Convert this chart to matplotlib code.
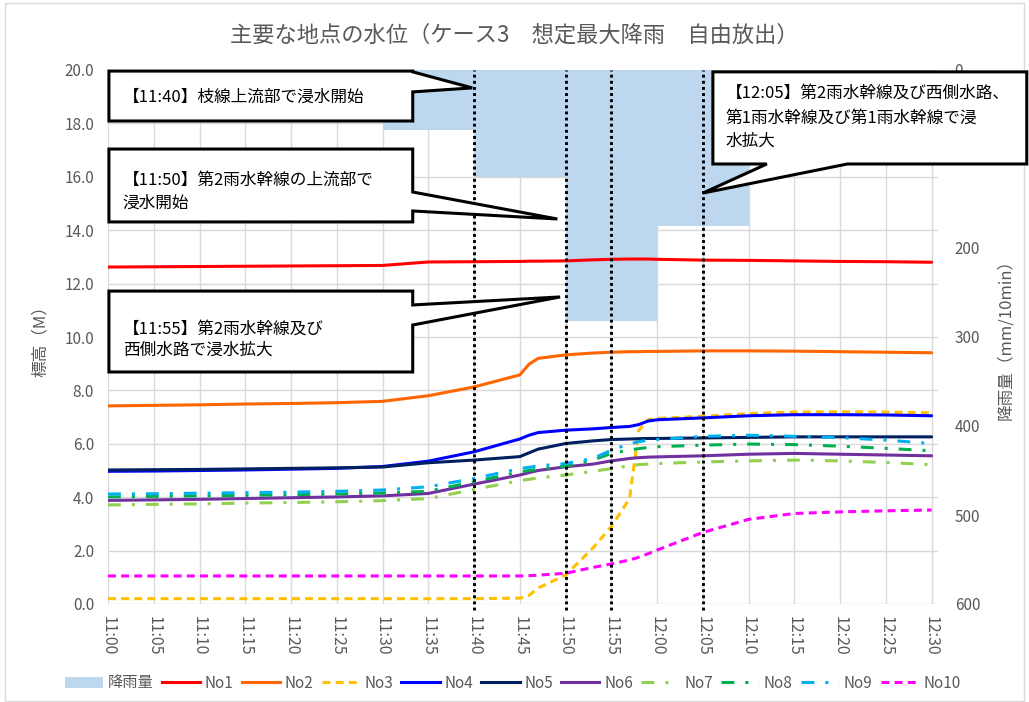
import matplotlib
matplotlib.use("Agg")
import matplotlib.pyplot as plt
from matplotlib.lines import Line2D
from matplotlib.patches import Polygon, Patch, Rectangle

plt.rcParams['font.family'] = ['Noto Sans CJK JP', 'DejaVu Sans']

GRAY = '#595959'
GRID = '#D9D9D9'

# ---- data -------------------------------------------------------------
minutes = [0, 5, 10, 15, 20, 25, 30, 35, 40, 45, 46, 47, 50, 53, 55, 57, 58, 59, 60,
           65, 70, 75, 80, 85, 90]

tick_minutes = [0, 5, 10, 15, 20, 25, 30, 35, 40, 45, 50, 55, 60, 65, 70, 75, 80, 85, 90]
tick_labels = ['11:00', '11:05', '11:10', '11:15', '11:20', '11:25', '11:30', '11:35',
               '11:40', '11:45', '11:50', '11:55', '12:00', '12:05', '12:10', '12:15',
               '12:20', '12:25', '12:30']

level_ticks = [0, 2, 4, 6, 8, 10, 12, 14, 16, 18, 20]
rain_ticks = [0, 100, 200, 300, 400, 500, 600]

rain_start = [0, 10, 20, 30, 40, 50, 60, 70, 80]
rain_mm = [0, 0, 0, 67, 120, 282, 175, 0, 0]

no1 = [12.62, 12.63, 12.64, 12.65, 12.66, 12.67, 12.68, 12.81, 12.82, 12.83, 12.84, 12.84,
       12.85, 12.89, 12.91, 12.92, 12.92, 12.92, 12.91, 12.88, 12.87, 12.85, 12.83, 12.82,
       12.80]
no2 = [7.42, 7.44, 7.46, 7.49, 7.51, 7.54, 7.59, 7.80, 8.13, 8.58, 8.98, 9.20, 9.33,
       9.40, 9.43, 9.45, 9.45, 9.46, 9.46, 9.48, 9.48, 9.47, 9.45, 9.43, 9.41]
no3 = [0.20, 0.20, 0.20, 0.20, 0.20, 0.20, 0.20, 0.20, 0.20, 0.22, 0.32, 0.60, 1.08,
       2.10, 2.90, 3.95, 6.50, 6.90, 6.95, 7.03, 7.13, 7.19, 7.20, 7.19, 7.16]
no4 = [4.97, 4.98, 5.00, 5.02, 5.05, 5.08, 5.15, 5.35, 5.70, 6.18, 6.32, 6.42, 6.51,
       6.56, 6.61, 6.65, 6.72, 6.85, 6.90, 6.97, 7.05, 7.09, 7.09, 7.08, 7.05]
no5 = [5.02, 5.03, 5.04, 5.06, 5.08, 5.10, 5.13, 5.29, 5.39, 5.52, 5.66, 5.80, 6.01,
       6.11, 6.16, 6.18, 6.19, 6.20, 6.20, 6.22, 6.24, 6.26, 6.26, 6.26, 6.26]
no6 = [3.88, 3.90, 3.92, 3.95, 3.98, 4.01, 4.05, 4.14, 4.49, 4.83, 4.92, 5.00, 5.14,
       5.24, 5.36, 5.45, 5.48, 5.50, 5.51, 5.55, 5.61, 5.64, 5.61, 5.58, 5.55]
no7 = [3.71, 3.73, 3.75, 3.78, 3.80, 3.83, 3.87, 3.95, 4.29, 4.62, 4.67, 4.72, 4.83,
       4.97, 5.07, 5.18, 5.22, 5.24, 5.26, 5.32, 5.36, 5.39, 5.36, 5.30, 5.22]
no8 = [4.01, 4.03, 4.05, 4.07, 4.09, 4.12, 4.16, 4.22, 4.58, 4.95, 5.00, 5.05, 5.16,
       5.39, 5.64, 5.77, 5.82, 5.86, 5.89, 5.95, 5.99, 5.97, 5.91, 5.83, 5.74]
no9 = [4.12, 4.13, 4.15, 4.17, 4.19, 4.22, 4.27, 4.39, 4.70, 5.07, 5.12, 5.17, 5.26,
       5.45, 5.76, 6.00, 6.08, 6.13, 6.16, 6.28, 6.32, 6.28, 6.23, 6.14, 6.01]
no10 = [1.05, 1.05, 1.05, 1.05, 1.05, 1.05, 1.05, 1.05, 1.05, 1.05, 1.06, 1.08, 1.15,
        1.37, 1.50, 1.65, 1.75, 1.88, 2.02, 2.68, 3.17, 3.39, 3.45, 3.49, 3.52]

event_minutes = [40, 50, 55, 65]

# ---- series styling ------------------------------------------------------
dashdot = (0, (4.2, 3.6, 1.0, 3.6))
series = [
    ('No1', no1, '#FF0000', '-'),
    ('No2', no2, '#FF6600', '-'),
    ('No3', no3, '#FFC000', (0, (2.6, 1.7))),
    ('No4', no4, '#0000FF', '-'),
    ('No5', no5, '#002060', '-'),
    ('No6', no6, '#7030A0', '-'),
    ('No7', no7, '#92D050', dashdot),
    ('No8', no8, '#00B050', dashdot),
    ('No9', no9, '#00B0F0', dashdot),
    ('No10', no10, '#FF00FF', (0, (2.6, 1.7))),
]

# ---- figure ---------------------------------------------------------------
fig = plt.figure(figsize=(10.29, 7.02), dpi=100)
fig.patches.append(Rectangle((5 / 1029, 1 / 702), 1019 / 1029, 698 / 702,
                             transform=fig.transFigure, fill=False,
                             edgecolor=GRID, linewidth=1.0))

ax = fig.add_axes([108 / 1029, 98 / 702, 830 / 1029, 534 / 702])
ax2 = ax.twinx()
ax.set_zorder(2)
ax2.set_zorder(1)
ax.patch.set_visible(False)

ax.set_xlim(0, 90.7)
ax.set_ylim(0, 20)
ax2.set_ylim(600, 0)

# grid lives on the back axes so the rain columns cover it
for m in tick_minutes:
    ax2.axvline(m, color=GRID, linewidth=1.0, zorder=0.5)
for v in level_ticks:
    ax2.add_line(Line2D([0, 1], [v, v], transform=ax.get_yaxis_transform(),
                        color=GRID, linewidth=1.0, zorder=0.5))

ax2.bar(rain_start, rain_mm, width=10, align='edge', color='#BDD7EE',
        linewidth=0, zorder=1)

for name, vals, color, ls in series:
    ax.plot(minutes, vals, color=color, linestyle=ls, linewidth=2.2, label=name,
            solid_capstyle='round')

for m in event_minutes:
    ax.axvline(m, ymin=-0.012, ymax=1.0, color='black', linestyle=(0, (1, 1.1)),
               linewidth=2.1, zorder=6, clip_on=False)

for a in (ax, ax2):
    for s in a.spines.values():
        s.set_visible(False)

ax.set_xticks(tick_minutes)
ax.set_xticklabels(tick_labels, rotation=-90, fontsize=11.5, color=GRAY)
ax.tick_params(axis='x', length=0, pad=9)
ax.set_yticks(level_ticks)
ax.set_yticklabels([f'{v:.1f}' for v in level_ticks], fontsize=11, color=GRAY)
ax.tick_params(axis='y', length=0, pad=10)
ax2.set_yticks(rain_ticks)
ax2.set_yticklabels([str(v) for v in rain_ticks], fontsize=11, color=GRAY)
ax2.tick_params(axis='y', length=0, pad=12)
for lab in ax.get_xticklabels():
    lab.set_va('top')

fig.text(40 / 1029, 1 - 337 / 702, '標高（M）', rotation=90, ha='center', va='center',
         fontsize=12, color=GRAY)
fig.text(1006 / 1029, 1 - 335 / 702, '降雨量（mm/10min）', rotation=90, ha='center',
         va='center', fontsize=12, color=GRAY)
fig.text(514 / 1029, 1 - 35 / 702, '主要な地点の水位（ケース3　想定最大降雨　自由放出）',
         ha='center', va='center', fontsize=16, color=GRAY)

# ---- callouts (drawn in data units of the level axis) ---------------------
def callout(verts, lines, x_text, y_lines):
    ax.add_patch(Polygon(verts, closed=True, facecolor='white', edgecolor='black',
                         linewidth=2.2, joinstyle='miter', zorder=8, clip_on=False))
    for txt, yy in zip(lines, y_lines):
        ax.text(x_text, yy, txt, fontsize=12, color='black', ha='left', va='center',
                zorder=9, clip_on=False)

# 11:40
callout([(0.1, 19.96), (33.3, 19.96), (33.3, 19.93), (39.8, 19.33), (33.3, 19.18),
         (33.3, 18.09), (0.1, 18.09)],
        ['【11:40】枝線上流部で浸水開始'], 1.6, [18.99])
# 11:50
callout([(0.1, 17.04), (33.3, 17.04), (33.3, 15.43), (49.1, 14.42), (33.3, 14.72),
         (33.3, 14.31), (0.1, 14.31)],
        ['【11:50】第2雨水幹線の上流部で', '浸水開始'], 1.6, [15.86, 15.0])
# 11:55
callout([(0.1, 11.72), (33.3, 11.72), (33.3, 11.20), (49.4, 11.50), (33.3, 10.45),
         (33.3, 8.69), (0.1, 8.69)],
        ['【11:55】第2雨水幹線及び', '西側水路で浸水拡大'], 1.6, [10.31, 9.49])
# 12:05
callout([(66.1, 19.93), (100.4, 19.93), (100.4, 16.48), (80.8, 16.48), (65.0, 15.39),
         (72.0, 16.48), (66.1, 16.48)],
        ['【12:05】第2雨水幹線及び西側水路、', '第1雨水幹線及び第1雨水幹線で浸', '水拡大'],
        67.5, [19.12, 18.18, 17.32])

# ---- legend ----------------------------------------------------------------
handles = [Patch(facecolor='#BDD7EE', edgecolor='none', label='降雨量')]
for name, vals, color, ls in series:
    handles.append(Line2D([], [], color=color, linestyle=ls, linewidth=2.2, label=name))
leg = fig.legend(handles=handles, loc='center', bbox_to_anchor=(513 / 1029, 19 / 702),
                 ncol=11, frameon=False, fontsize=11, handlelength=2.5,
                 handleheight=0.7, handletextpad=0.3, columnspacing=0.55,
                 borderaxespad=0)
for t in leg.get_texts():
    t.set_color(GRAY)

fig.savefig('out.png', dpi=100)
